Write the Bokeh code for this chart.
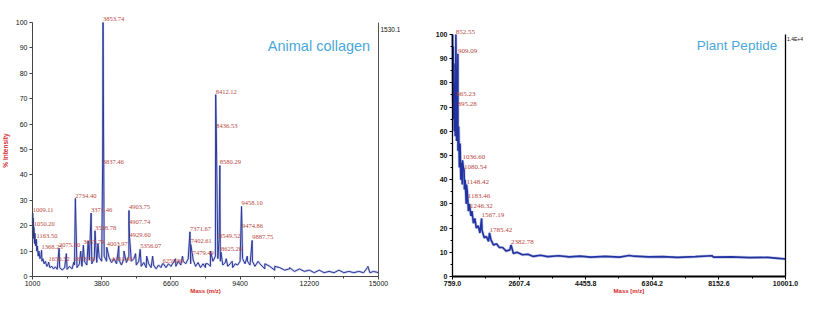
from bokeh.plotting import figure
from bokeh.layouts import row
from bokeh.models import ColumnDataSource, LabelSet, Label, FixedTicker, Range1d
from bokeh.embed import file_html
from bokeh.resources import INLINE

# ---------------- Animal collagen (left spectrum) ----------------
ac_peak_mass = [1009.11, 1050.20, 1163.50, 1368.25, 1650.52, 2075.60, 2673.56, 2734.40,
                3057.79, 3371.46, 3528.78, 3837.46, 3853.74, 4003.97, 4181.48, 4903.75,
                4907.74, 4929.60, 5356.07, 6259.86, 7371.67, 7402.61, 7479.49, 8412.12,
                8436.53, 8549.52, 8580.29, 8625.28, 9458.10, 9474.86, 9887.75]
ac_peak_int = [25, 19.5, 14.6, 10.3, 5.7, 11.1, 5.7, 30.7,
               12.3, 25, 18, 44, 100, 11.5, 5.7, 26,
               20.3, 15, 10.7, 5, 17.6, 12.6, 8, 71.6,
               57.9, 14.6, 43.7, 9.6, 27.6, 18.8, 14.2]
ac_peak_label = ["1009.11", "1050.20", "1163.50", "1368.25", "1650.52", "2075.60", "2673.56", "2734.40",
                 "3057.79", "3371.46", "3528.78", "3837.46", "3853.74", "4003.97", "4181.48", "4903.75",
                 "4907.74", "4929.60", "5356.07", "6259.86", "7371.67", "7402.61", "7479.49", "8412.12",
                 "8436.53", "8549.52", "8580.29", "8625.28", "9458.10", "9474.86", "9887.75"]
ac_extra_mass = [2370, 2950, 3250, 3650, 4490, 4700, 5170, 5620, 5860, 6790, 7070,
                 8000, 8200, 8840, 9080, 9690, 10130, 10400, 10800, 11400, 14570]
ac_extra_int = [9, 10, 14, 13, 12, 10, 9, 8, 8, 7, 8, 5, 10, 7, 6, 8, 6, 5, 4, 3.5, 4]
ac_base_mass = [1000, 1015, 1030, 1045, 1060, 1080, 1100, 1120, 1140, 1170, 1200, 1230, 1260,
                1300, 1340, 1380, 1420, 1470, 1520, 1580, 1640, 1700, 1780, 1850, 1930, 2000,
                2100, 2200, 2300, 2400, 2500, 2600, 2700, 2800, 2900, 3000, 3100, 3200, 3300,
                3400, 3500, 3600, 3700, 3800, 3900, 4000, 4100, 4200, 4300, 4400, 4500, 4600,
                4700, 4800, 4900, 5000, 5100, 5200, 5300, 5400, 5500, 5600, 5700, 5800, 5900,
                6000, 6100, 6200, 6300, 6400, 6500, 6600, 6700, 6800, 6900, 7000, 7100, 7200,
                7300, 7400, 7500, 7600, 7700, 7800, 7900, 8000, 8100, 8200, 8300, 8400, 8500,
                8600, 8700, 8800, 8900, 9000, 9100, 9200, 9300, 9400, 9500, 9600, 9700, 9800,
                9900, 10000, 10200, 10400, 10600, 10800, 11000, 11200, 11400, 11600, 11800,
                12000, 12200, 12400, 12600, 12800, 13000, 13200, 13400, 13600, 13800, 14000,
                14200, 14400, 14550, 14650, 14800, 15000]
ac_base_int = [21, 16, 23, 15, 19, 13, 17, 12, 14, 10, 12, 8, 10,
               7, 8, 6, 7, 5, 6, 4, 5, 3.5, 4, 3, 3.8, 2.8,
               3.5, 2.6, 3.4, 2.8, 4, 3, 4.5, 3.5, 5, 4, 6, 4.5, 6.5,
               5, 7, 5.5, 7.5, 6, 8, 6, 7.5, 5.5, 7, 5, 6.5, 4.5,
               7, 5.5, 8, 6, 7, 4.5, 6, 4, 5.5, 3.5, 5, 3.5, 4.5,
               3, 4.5, 3.5, 5, 3.5, 5, 4, 5.5, 4, 6, 4.5, 6, 5,
               7, 5, 6.5, 4, 5.5, 3.5, 5, 3.5, 5, 4, 6, 8, 7,
               6, 4.5, 5.5, 4, 5, 3.5, 5, 4.5, 6, 7, 5, 6, 4.5,
               6, 4, 5, 3, 4, 2.5, 3.5, 2.5, 3, 2, 3,
               2, 2.5, 1.5, 2.5, 1.5, 2, 1.5, 2.5, 1.5, 2, 1.5,
               2, 1.5, 3.5, 1.5, 2, 1.5]
ac_xticks = [1000, 3800, 6600, 9400, 12200, 15000]
ac_xticks_minor = [2400, 5200, 8000, 10800, 13600]
ac_yticks = [0, 10, 20, 30, 40, 50, 60, 70, 80, 90, 100]

# ---------------- Plant Peptide (right spectrum) ----------------
pp_peak_mass = [852.55, 865.23, 895.28, 909.09, 1036.60, 1080.54, 1148.42, 1183.46,
                1246.32, 1567.19, 1785.42, 2382.78]
pp_peak_int = [100, 74, 70, 92, 48, 44, 38, 32, 28, 24, 18, 13]
pp_peak_label = ["852.55", "865.23", "895.28", "909.09", "1036.60", "1080.54", "1148.42",
                 "1183.46", "1246.32", "1567.19", "1785.42", "2382.78"]
pp_base_mass = [759, 770, 780, 790, 800, 810, 820, 835, 850, 870, 890, 910, 930, 950, 970,
                990, 1010, 1030, 1060, 1090, 1110, 1140, 1170, 1200, 1230, 1270, 1300, 1340,
                1380, 1420, 1470, 1520, 1580, 1640, 1700, 1760, 1830, 1900, 1980, 2060, 2150,
                2250, 2350, 2450, 2550, 2700, 2850, 3000, 3200, 3400, 3700, 4000, 4300, 4600,
                5000, 5400, 5660, 5800, 6200, 6600, 7000, 7500, 7960, 8000, 8500, 9000, 9500,
                9800, 10001]
pp_base_int = [100, 72, 95, 65, 88, 60, 80, 58, 75, 56, 70, 52, 62, 45, 55,
               40, 47, 38, 45, 36, 40, 30, 35, 27, 30, 25, 27, 22,
               24, 20, 21, 18, 19, 16, 16.5, 14.5, 15, 13, 13.5, 12, 12,
               10.5, 11, 9.5, 10, 9, 9.2, 8.3, 8.8, 8.2, 8.6, 8.1, 8.4, 8.0,
               8.3, 8.0, 8.7, 8.4, 8.1, 8.2, 7.9, 8.2, 8.6, 8.0, 8.1, 7.8, 7.9,
               7.5, 7.2]
pp_xticks = [759.0, 2607.4, 4455.8, 6304.2, 8152.6, 10001.0]
pp_xticks_minor = [1683.2, 3531.6, 5380.0, 7228.4, 9076.8]
pp_yticks = [0, 10, 20, 30, 40, 50, 60, 70, 80, 90, 100]
pp_yticks_minor = [5, 15, 25, 35, 45, 55, 65, 75, 85, 95]

FONT = "Liberation Sans"
LABEL_RED = "#b8463e"
TITLE_BLUE = "#4aa8d8"
AXIS_RED = "#d42a2a"


def merged(bm, bi, *pairs):
    pts = list(zip(bm, bi))
    for m, v in pairs:
        pts += list(zip(m, v))
    pts.sort(key=lambda t: t[0])
    return [t[0] for t in pts], [t[1] for t in pts]


def style_axes(p, xticks, xminor, yticks, yminor, xlabels, axis_color, xw, yw):
    p.xaxis.ticker = FixedTicker(ticks=xticks, minor_ticks=xminor)
    p.yaxis.ticker = FixedTicker(ticks=yticks, minor_ticks=yminor)
    p.xaxis.major_label_overrides = {t: l for t, l in zip(xticks, xlabels)}
    p.xaxis.bounds = (xticks[0], xticks[-1])
    p.yaxis.bounds = (yticks[0], yticks[-1])
    p.xaxis.fixed_location = yticks[0]
    p.yaxis.fixed_location = xticks[0]
    for ax in (p.xaxis[0], p.yaxis[0]):
        ax.major_label_text_font = FONT
        ax.major_label_text_font_size = "7px"
        ax.major_label_text_color = "#111111"
        ax.major_label_standoff = 2
        ax.major_tick_out = 3
        ax.major_tick_in = 0
        ax.minor_tick_out = 2
        ax.minor_tick_in = 0
        ax.axis_line_color = axis_color
        ax.major_tick_line_color = axis_color
        ax.minor_tick_line_color = axis_color
    p.xaxis.axis_line_width = xw
    p.yaxis.axis_line_width = yw
    p.xgrid.visible = False
    p.ygrid.visible = False
    p.outline_line_color = None


def txt(p, x, y, text, size, color, align="center", style="normal", angle=0.0):
    p.add_layout(Label(x=x, y=y, text=text, text_font=FONT, text_font_size=size,
                       text_color=color, text_align=align, text_baseline="middle",
                       text_font_style=style, angle=angle))


# ---------------- left figure (frame = whole canvas, axes at fixed locations) ----------------
p1 = figure(width=400, height=294, x_range=Range1d(-295, 15890), y_range=Range1d(-7.09, 108.66),
            output_backend="svg", toolbar_location=None, title_location=None, min_border=0)
style_axes(p1, ac_xticks, ac_xticks_minor, ac_yticks, [], [str(t) for t in ac_xticks],
           "#444444", 1, 1)
lx, ly = merged(ac_base_mass, ac_base_int, (ac_peak_mass, ac_peak_int), (ac_extra_mass, ac_extra_int))
p1.line(lx, ly, line_color="#8f9ad8", line_width=2.2, line_alpha=0.5)
p1.line(lx, ly, line_color="#2b3896", line_width=1.0)
p1.segment(x0=[ac_xticks[-1]], y0=[ac_yticks[0]], x1=[ac_xticks[-1]], y1=[ac_yticks[-1]],
           line_color="#555555", line_width=1)
src1 = ColumnDataSource(dict(x=ac_peak_mass, y=ac_peak_int, t=ac_peak_label))
p1.add_layout(LabelSet(x="x", y="y", text="t", source=src1, text_font=FONT, text_font_size="6.5px",
                       text_color=LABEL_RED, text_align="left", text_baseline="bottom",
                       x_offset=0, y_offset=1))
txt(p1, 12592, 90.9, "Animal collagen", "14.5px", TITLE_BLUE)
txt(p1, 15081, 97.2, "1530.1", "6.5px", "#111111", align="left")
txt(p1, -92, 49.6, "% Intensity", "6.5px", AXIS_RED, style="bold", angle=1.5708)
txt(p1, 8000, -5.9, "Mass (m/z)", "6px", AXIS_RED, style="bold")

# ---------------- right figure ----------------
p2 = figure(width=403, height=294, x_range=Range1d(-684.2, 10500.6), y_range=Range1d(-7.44, 114.05),
            output_backend="svg", toolbar_location=None, title_location=None, min_border=0)
style_axes(p2, pp_xticks, pp_xticks_minor, pp_yticks, pp_yticks_minor,
           ["%.1f" % t for t in pp_xticks], "#000000", 2, 1.3)
p2.yaxis.major_label_text_font_style = "bold"
p2.xaxis.major_label_text_font_style = "bold"
rx, ry = merged(pp_base_mass, pp_base_int, (pp_peak_mass, pp_peak_int))
p2.line(rx, ry, line_color="#8f9ad8", line_width=3, line_alpha=0.5)
p2.line(rx, ry, line_color="#2232a0", line_width=1.6)
p2.segment(x0=[pp_xticks[-1]], y0=[pp_yticks[0]], x1=[pp_xticks[-1]], y1=[pp_yticks[-1]],
           line_color="#000000", line_width=1.3)
src2 = ColumnDataSource(dict(x=pp_peak_mass, y=pp_peak_int, t=pp_peak_label))
p2.add_layout(LabelSet(x="x", y="y", text="t", source=src2, text_font=FONT, text_font_size="7px",
                       text_color=LABEL_RED, text_align="left", text_baseline="bottom",
                       x_offset=0, y_offset=1))
txt(p2, 8655, 95.5, "Plant Peptide", "13.5px", TITLE_BLUE)
txt(p2, 10042.6, 98.3, "1.4E+4", "5px", "#111111", align="left")
txt(p2, 5655, -6.2, "Mass [m/z]", "6px", AXIS_RED, style="bold")

layout = row(p1, p2)
open("out.html", "w").write(file_html(layout, INLINE))
